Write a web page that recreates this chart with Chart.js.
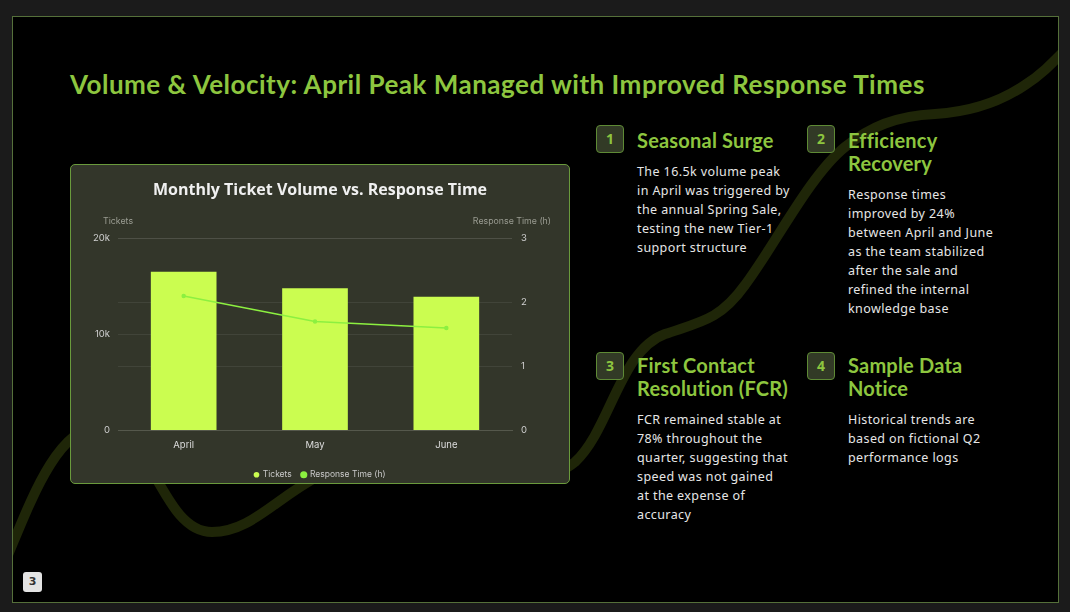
<!DOCTYPE html>
<html>
<head>
<meta charset="utf-8">
<script src="https://cdn.jsdelivr.net/npm/chart.js@4.4.1/dist/chart.umd.min.js"></script>
<style>
  html, body { margin: 0; padding: 0; background: #1b1b1b; width: 1070px; height: 612px; overflow: hidden; }
  .slide { position: absolute; left: 12px; top: 16px; width: 1045px; height: 585px; background: #000; border: 1px solid #55703a; overflow: hidden; }
  .wave { position: absolute; left: -13px; top: -17px; width: 1070px; height: 612px; }
  .title { position: absolute; left: 57px; top: 51px; font-family: Lato, "Open Sans", sans-serif; font-weight: 700; font-size: 26px; color: #8dc63f; white-space: nowrap; letter-spacing: 0.5px; }
  .card { position: absolute; left: 57px; top: 147px; width: 498px; height: 318px; background: #33362a; border: 1px solid #6a9a3c; border-radius: 5px; }
  .card canvas { position: absolute; left: 0; top: 0; }
  .badge { position: absolute; width: 26px; height: 26px; background: #323a26; border: 1px solid #5e8a35; border-radius: 4px; color: #8dc63f; font-family: "Open Sans", sans-serif; font-weight: 700; font-size: 14px; text-align: center; line-height: 26px; }
  .h { position: absolute; font-family: Lato, "Open Sans", sans-serif; font-weight: 700; font-size: 20px; line-height: 23px; color: #8dc63f; white-space: nowrap; letter-spacing: 0.2px; }
  .p { position: absolute; font-family: "Noto Sans", sans-serif; font-size: 12.5px; line-height: 19px; color: #e6e6e6; white-space: nowrap; letter-spacing: 0.4px; }
  .pg { position: absolute; left: 10px; top: 555px; width: 19px; height: 20px; background: #e3e3e3; border-radius: 3px; color: #333; font-family: "DejaVu Sans", sans-serif; font-weight: 700; font-size: 11px; text-align: center; line-height: 20px; }
</style>
</head>
<body>
<div class="slide">
  <svg class="wave" viewBox="0 0 1070 612">
    <path d="M -5 585 C 25 520, 50 430, 100 425 C 150 420, 160 532, 212 532 C 265 532, 290 470, 380 455 C 470 440, 530 500, 575 462 C 610 430, 620 350, 665 334 C 700 322, 720 320, 745 285 C 775 245, 810 175, 845 147 C 870 127, 895 116, 935 114 C 970 112, 1000 102, 1025 85 C 1045 72, 1055 60, 1075 40" fill="none" stroke="#1f2608" stroke-width="10" stroke-linecap="round"/>
  </svg>
  <div class="title">Volume &amp; Velocity: April Peak Managed with Improved Response Times</div>

  <div class="card"><canvas id="c" width="498" height="318"></canvas></div>

  <div class="badge" style="left:583px; top:108px;">1</div>
  <div class="h" style="left:624px; top:112px;">Seasonal Surge</div>
  <div class="p" style="left:624px; top:145px;">The 16.5k volume peak<br>in April was triggered by<br>the annual Spring Sale,<br>testing the new Tier-1<br>support structure</div>

  <div class="badge" style="left:794px; top:108px;">2</div>
  <div class="h" style="left:835px; top:112px;">Efficiency<br>Recovery</div>
  <div class="p" style="left:835px; top:168px;">Response times<br>improved by 24%<br>between April and June<br>as the team stabilized<br>after the sale and<br>refined the internal<br>knowledge base</div>

  <div class="badge" style="left:583px; top:335px;">3</div>
  <div class="h" style="left:624px; top:337px;">First Contact<br>Resolution (FCR)</div>
  <div class="p" style="left:624px; top:393px;">FCR remained stable at<br>78% throughout the<br>quarter, suggesting that<br>speed was not gained<br>at the expense of<br>accuracy</div>

  <div class="badge" style="left:794px; top:335px;">4</div>
  <div class="h" style="left:835px; top:337px;">Sample Data<br>Notice</div>
  <div class="p" style="left:835px; top:393px;">Historical trends are<br>based on fictional Q2<br>performance logs</div>

  <div class="pg">3</div>
</div>
<script>
const months = ["April", "May", "June"];
const tickets = [16500, 14800, 13900];
const responseHours = [2.1, 1.7, 1.6];
const chartTitle = "Monthly Ticket Volume vs. Response Time";
const leftAxisTitle = "Tickets";
const rightAxisTitle = "Response Time (h)";

const axisTitles = {
  id: 'axisTitles',
  afterDraw(chart) {
    const ctx = chart.ctx, a = chart.chartArea;
    ctx.save();
    ctx.font = '8.8px Inter, "Noto Sans", sans-serif';
    ctx.fillStyle = '#9a9c92';
    ctx.textBaseline = 'middle';
    ctx.textAlign = 'left';
    ctx.fillText(leftAxisTitle, a.left - 15, a.top - 17);
    ctx.textAlign = 'right';
    ctx.fillText(rightAxisTitle, a.right + 39, a.top - 17);
    ctx.restore();
  }
};

new Chart(document.getElementById('c'), {
  data: {
    labels: months,
    datasets: [
      { type: 'bar', label: 'Tickets', data: tickets, yAxisID: 'y', backgroundColor: '#cbfd50', borderColor: '#cbfd50', order: 2, barPercentage: 0.5, categoryPercentage: 1.0 },
      { type: 'line', label: 'Response Time (h)', data: responseHours, yAxisID: 'y1', borderColor: '#8cf040', backgroundColor: '#8cf040', borderWidth: 1.5, pointRadius: 1.5, pointHoverRadius: 2, tension: 0, order: 1 }
    ]
  },
  options: {
    responsive: false,
    animation: false,
    devicePixelRatio: 1,
    layout: { padding: { top: 16, left: 8, right: 8, bottom: -6 } },
    plugins: {
      title: { display: true, text: chartTitle, color: '#f0f0f0', font: { family: '"Open Sans", Lato, sans-serif', size: 16, weight: '700' }, padding: { top: 0, bottom: 38 } },
      legend: { position: 'bottom', labels: { color: '#c8c8c8', usePointStyle: true, pointStyle: 'circle', boxWidth: 4, boxHeight: 4, padding: 10, font: { family: 'Inter, "Noto Sans", sans-serif', size: 8.5 }, sort: (a, b) => a.datasetIndex - b.datasetIndex } },
      tooltip: { enabled: false }
    },
    scales: {
      x: {
        grid: { display: false },
        border: { display: true, color: '#55584c' },
        ticks: { color: '#dcdcdc', padding: 1, font: { family: 'Inter, "Noto Sans", sans-serif', size: 9.5 } },
        afterFit: (s) => { s.height = 30; }
      },
      y: {
        position: 'left', min: 0, max: 20000,
        ticks: { stepSize: 10000, color: '#d0d0d0', padding: 8, font: { family: 'Inter, "Noto Sans", sans-serif', size: 9.5 }, callback: (v) => v === 0 ? '0' : (v / 1000) + 'k' },
        grid: { color: 'rgba(255,255,255,0.07)', drawTicks: false },
        border: { display: false },
        afterFit: (s) => { s.width = 39; }
      },
      y1: {
        position: 'right', min: 0, max: 3,
        ticks: { stepSize: 1, color: '#d0d0d0', padding: 9, font: { family: 'Inter, "Noto Sans", sans-serif', size: 9.5 } },
        grid: { color: 'rgba(255,255,255,0.07)', drawTicks: false },
        border: { display: false },
        afterFit: (s) => { s.width = 49; }
      }
    }
  },
  plugins: [axisTitles]
});
</script>
</body>
</html>
